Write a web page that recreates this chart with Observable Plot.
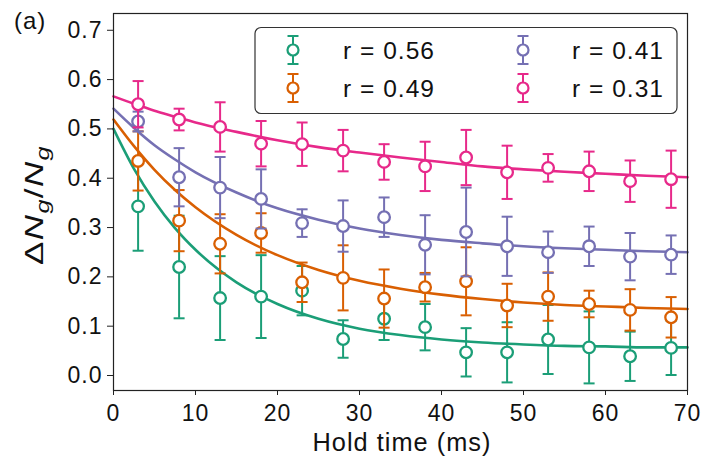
<!DOCTYPE html>
<html>
<head>
<meta charset="utf-8">
<script src="https://cdn.jsdelivr.net/npm/d3@7"></script>
<script src="https://cdn.jsdelivr.net/npm/@observablehq/plot@0.6"></script>
<style>
  html, body { margin: 0; padding: 0; background: #fff; }
  svg { display: block; }
</style>
</head>
<body>
<div id="chart"></div>
<script>
// ---- data ----
const holdTime = [3, 8, 13, 18, 23, 28, 33, 38, 43, 48, 53, 58, 63, 68];

const seriesNames  = ["r = 0.56", "r = 0.49", "r = 0.41", "r = 0.31"];
const seriesColors = ["#1b9e77", "#d95f02", "#7570b3", "#e7298a"];

const valR056 = [0.343, 0.220, 0.157, 0.160, 0.172, 0.074, 0.115, 0.098, 0.047, 0.047, 0.073, 0.057, 0.039, 0.056];
const errR056 = [0.090, 0.104, 0.085, 0.084, 0.050, 0.038, 0.043, 0.047, 0.049, 0.061, 0.070, 0.073, 0.050, 0.055];

const valR049 = [0.435, 0.314, 0.267, 0.289, 0.189, 0.198, 0.156, 0.179, 0.191, 0.142, 0.160, 0.145, 0.133, 0.118];
const errR049 = [0.060, 0.062, 0.060, 0.040, 0.040, 0.066, 0.059, 0.029, 0.069, 0.044, 0.049, 0.027, 0.042, 0.041];

const valR041 = [0.515, 0.402, 0.381, 0.358, 0.309, 0.303, 0.321, 0.265, 0.291, 0.262, 0.250, 0.262, 0.241, 0.245];
const errR041 = [0.020, 0.059, 0.062, 0.060, 0.028, 0.052, 0.040, 0.060, 0.090, 0.060, 0.042, 0.040, 0.048, 0.039];

const valR031 = [0.550, 0.519, 0.504, 0.470, 0.469, 0.456, 0.433, 0.424, 0.442, 0.412, 0.421, 0.414, 0.394, 0.398];
const errR031 = [0.047, 0.022, 0.050, 0.046, 0.044, 0.042, 0.036, 0.050, 0.056, 0.054, 0.028, 0.040, 0.042, 0.058];

// fitted curves
const fitTime = [0, 2.5, 5, 7.5, 10, 15, 20, 25, 30, 35, 40, 45, 50, 55, 60, 65, 70];
const fitR056 = [0.500, 0.419, 0.353, 0.299, 0.255, 0.189, 0.145, 0.115, 0.095, 0.082, 0.073, 0.067, 0.063, 0.060, 0.059, 0.057, 0.057];
const fitR049 = [0.519, 0.465, 0.417, 0.376, 0.341, 0.285, 0.244, 0.214, 0.192, 0.176, 0.164, 0.155, 0.148, 0.143, 0.140, 0.137, 0.135];
const fitR041 = [0.541, 0.502, 0.467, 0.438, 0.412, 0.371, 0.339, 0.316, 0.298, 0.285, 0.275, 0.268, 0.262, 0.258, 0.255, 0.252, 0.250];
const fitR031 = [0.566, 0.551, 0.537, 0.525, 0.513, 0.494, 0.477, 0.463, 0.452, 0.442, 0.433, 0.424, 0.418, 0.413, 0.409, 0.405, 0.402];

const xTicks = [0, 10, 20, 30, 40, 50, 60, 70];
const yTicks = [0.0, 0.1, 0.2, 0.3, 0.4, 0.5, 0.6, 0.7];

const xLabel = "Hold time (ms)";
const panelLabel = "(a)";

// ---- build tables ----
const pointVals = [valR056, valR049, valR041, valR031];
const pointErrs = [errR056, errR049, errR041, errR031];
const fitVals = [fitR056, fitR049, fitR041, fitR031];

const series = seriesNames.map((name, i) => ({
  name,
  color: seriesColors[i],
  points: holdTime.map((t, j) => ({t, v: pointVals[i][j], e: pointErrs[i][j]})),
  fit: fitTime.map((t, j) => ({t, v: fitVals[i][j]}))
}));

const capSymbol = {
  draw(ctx, size) {
    const w = Math.sqrt(size / Math.PI);
    ctx.moveTo(-w, 0);
    ctx.lineTo(w, 0);
  }
};

const marks = [];
for (const s of series) {
  marks.push(Plot.line(s.fit, {x: "t", y: "v", stroke: s.color, strokeWidth: 2.6, curve: "monotone-x"}));
  marks.push(Plot.ruleX(s.points, {x: "t", y1: d => d.v - d.e, y2: d => d.v + d.e, stroke: s.color, strokeWidth: 2}));
  marks.push(Plot.dot(s.points, {x: "t", y: d => d.v - d.e, symbol: capSymbol, r: 5.5, stroke: s.color, strokeWidth: 2, fill: "none"}));
  marks.push(Plot.dot(s.points, {x: "t", y: d => d.v + d.e, symbol: capSymbol, r: 5.5, stroke: s.color, strokeWidth: 2, fill: "none"}));
  marks.push(Plot.dot(s.points, {x: "t", y: "v", r: 5.8, stroke: s.color, strokeWidth: 2.3, fill: "white"}));
}
marks.push(Plot.axisX({ticks: xTicks, tickSize: 5, tickPadding: 9, label: null, stroke: "#222"}));
marks.push(Plot.axisY({ticks: yTicks, tickFormat: d3.format(".1f"), tickSize: 6, tickPadding: 5, label: null, stroke: "#222"}));
marks.push(Plot.frame({stroke: "#222", strokeWidth: 1.2}));

const svg = Plot.plot({
  width: 705,
  height: 460,
  marginLeft: 113,
  marginRight: 18,
  marginTop: 13,
  marginBottom: 70,
  x: {domain: [0, 70]},
  y: {domain: [-0.0304, 0.734]},
  style: {fontFamily: "'Liberation Sans', Arial, sans-serif", fontSize: "23px", letterSpacing: "1px", color: "#111", background: "white", overflow: "visible"},
  marks
});

const g = d3.select(svg);
const font = "'Liberation Sans', Arial, sans-serif";

// panel label
g.append("text").attr("x", 14).attr("y", 29).attr("font-size", 24).attr("font-family", font)
  .attr("text-anchor", "start").attr("fill", "#111").text(panelLabel);

// x label
g.append("text").attr("x", 402).attr("y", 451).attr("font-size", 25).attr("font-family", font)
  .attr("text-anchor", "middle").attr("fill", "#111")
  .attr("textLength", 179).attr("lengthAdjust", "spacingAndGlyphs").text(xLabel);

// y label ΔN_g/N_g
const yl = g.append("text").attr("transform", "translate(42.5,205) rotate(-90)")
  .attr("font-size", 25).attr("font-family", font).attr("text-anchor", "middle").attr("fill", "#111")
  .attr("textLength", 120).attr("lengthAdjust", "spacingAndGlyphs");
yl.append("tspan").text("Δ");
yl.append("tspan").attr("font-style", "italic").text("N");
yl.append("tspan").attr("font-style", "italic").attr("font-size", 18).attr("dy", 6).text("g");
yl.append("tspan").attr("dy", -6).text("/");
yl.append("tspan").attr("font-style", "italic").text("N");
yl.append("tspan").attr("font-style", "italic").attr("font-size", 18).attr("dy", 6).text("g");

// legend
const leg = g.append("g");
leg.append("rect").attr("x", 255).attr("y", 27.5).attr("width", 422).attr("height", 86)
  .attr("rx", 6).attr("fill", "white").attr("stroke", "#333").attr("stroke-width", 1.2);
const legPos = [
  {sx: 293, tx: 343, cy: 50},
  {sx: 293, tx: 343, cy: 88},
  {sx: 523, tx: 572, cy: 50},
  {sx: 523, tx: 572, cy: 88}
];
series.forEach((s, i) => {
  const p = legPos[i];
  const e = leg.append("g").attr("stroke", s.color).attr("stroke-width", 2).attr("fill", "none");
  e.append("line").attr("x1", p.sx).attr("x2", p.sx).attr("y1", p.cy - 14).attr("y2", p.cy + 14);
  e.append("line").attr("x1", p.sx - 5.5).attr("x2", p.sx + 5.5).attr("y1", p.cy - 14).attr("y2", p.cy - 14);
  e.append("line").attr("x1", p.sx - 5.5).attr("x2", p.sx + 5.5).attr("y1", p.cy + 14).attr("y2", p.cy + 14);
  e.append("circle").attr("cx", p.sx).attr("cy", p.cy).attr("r", 5.5).attr("fill", "white").attr("stroke-width", 2.2);
  leg.append("text").attr("x", p.tx).attr("y", p.cy + 9).attr("font-size", 24).attr("font-family", font)
    .attr("text-anchor", "start").attr("fill", "#111")
    .attr("textLength", 92).attr("lengthAdjust", "spacingAndGlyphs").text(s.name);
});

document.getElementById("chart").appendChild(svg);
</script>
</body>
</html>
